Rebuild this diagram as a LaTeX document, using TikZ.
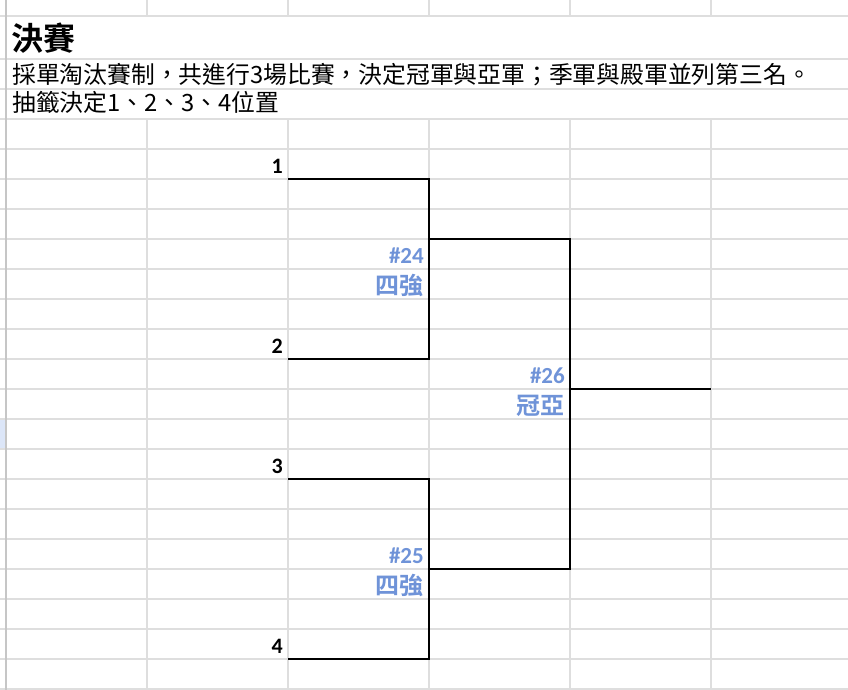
\documentclass[tikz,border=0pt]{standalone}
\usepackage{fontspec}
\setmainfont{Noto Sans CJK TC}[BoldFont={Noto Sans CJK TC Bold}]
\newfontfamily\numfont{Carlito}
\definecolor{gridgray}{HTML}{DEDEDE}
\definecolor{bordergray}{HTML}{C6C6C6}
\definecolor{matchblue}{HTML}{6F93D8}
\definecolor{rowsel}{HTML}{DCE6F8}

\begin{document}
\begin{tikzpicture}[x=1pt,y=-1pt,
	gridline/.style={gridgray,line width=1.5pt},
	bracket/.style={black,line width=2pt},
	seed/.style={anchor=base east,inner sep=0pt,font=\numfont\bfseries\fontsize{22}{22}\selectfont},
	matchno/.style={anchor=base east,inner sep=0pt,text=matchblue,font=\numfont\bfseries\fontsize{23}{23}\selectfont},
	matchname/.style={anchor=base east,inner sep=0pt,text=matchblue,font=\bfseries\fontsize{24}{24}\selectfont},
	note/.style={anchor=base west,inner sep=0pt,font=\fontsize{23.8}{23.8}\selectfont}]
	\useasboundingbox (0,0) rectangle (848,690);
	\fill[white] (0,0) rectangle (848,690);
	\fill[rowsel] (0,420) rectangle (5,448);
	% sheet rows
	\draw[gridline] (0,16) -- (848,16);
	\draw[gridline] (0,59) -- (848,59);
	\draw[gridline] (0,89) -- (848,89);
	\draw[gridline] (0,119) -- (848,119);
	\draw[gridline] (0,149) -- (848,149);
	\draw[gridline] (0,179) -- (848,179);
	\draw[gridline] (0,209) -- (848,209);
	\draw[gridline] (0,239) -- (848,239);
	\draw[gridline] (0,269) -- (848,269);
	\draw[gridline] (0,299) -- (848,299);
	\draw[gridline] (0,329) -- (848,329);
	\draw[gridline] (0,359) -- (848,359);
	\draw[gridline] (0,389) -- (848,389);
	\draw[gridline] (0,419) -- (848,419);
	\draw[gridline] (0,449) -- (848,449);
	\draw[gridline] (0,479) -- (848,479);
	\draw[gridline] (0,509) -- (848,509);
	\draw[gridline] (0,539) -- (848,539);
	\draw[gridline] (0,569) -- (848,569);
	\draw[gridline] (0,599) -- (848,599);
	\draw[gridline] (0,629) -- (848,629);
	\draw[gridline] (0,659) -- (848,659);
	\draw[gridline] (0,689) -- (848,689);
	% sheet columns
	\draw[gridline] (147,0) -- (147,16);
	\draw[gridline] (288,0) -- (288,16);
	\draw[gridline] (429,0) -- (429,16);
	\draw[gridline] (570,0) -- (570,16);
	\draw[gridline] (711,0) -- (711,16);
	\draw[gridline] (147,119) -- (147,690);
	\draw[gridline] (288,119) -- (288,690);
	\draw[gridline] (429,119) -- (429,690);
	\draw[gridline] (570,119) -- (570,690);
	\draw[gridline] (711,119) -- (711,690);
	\draw[bordergray,line width=2.5pt] (6,0) -- (6,690);
	% heading
	\node[anchor=base west,inner sep=0pt,font=\bfseries\fontsize{32}{32}\selectfont] (title) at (11,51) {決賽};
	\node[note] (rule) at (12,84) {採單淘汰賽制，共進行3場比賽，決定冠軍與亞軍；季軍與殿軍並列第三名。};
	\node[note] (draw) at (12,112) {抽籤決定1、2、3、4位置};
	% bracket
	\coordinate (s1) at (288,179);
	\coordinate (s2) at (288,359);
	\coordinate (s3) at (288,479);
	\coordinate (s4) at (288,659);
	\coordinate (m24) at (429,239);
	\coordinate (m25) at (429,569);
	\coordinate (m26) at (570,389);
	\coordinate (fin) at (711,389);
	\draw[bracket] (s1) -| (m24 |- s2) -- (s2);
	\draw[bracket] (s3) -| (m25 |- s4) -- (s4);
	\draw[bracket] (m24) -| (m26 |- m25) -- (m25);
	\draw[bracket] (m26) -- (fin);
	\node[seed] (n1) at (283,173) {1};
	\node[seed] (n2) at (283,353) {2};
	\node[seed] (n3) at (283,473) {3};
	\node[seed] (n4) at (283,653) {4};
	\node[matchno] (g24) at (424,263) {\#24};
	\node[matchname] (r24) at (424,294) {四強};
	\node[matchno] (g25) at (424,563) {\#25};
	\node[matchname] (r25) at (424,594) {四強};
	\node[matchno] (g26) at (565,383) {\#26};
	\node[matchname] (r26) at (565,414) {冠亞};
\end{tikzpicture}
\end{document}
